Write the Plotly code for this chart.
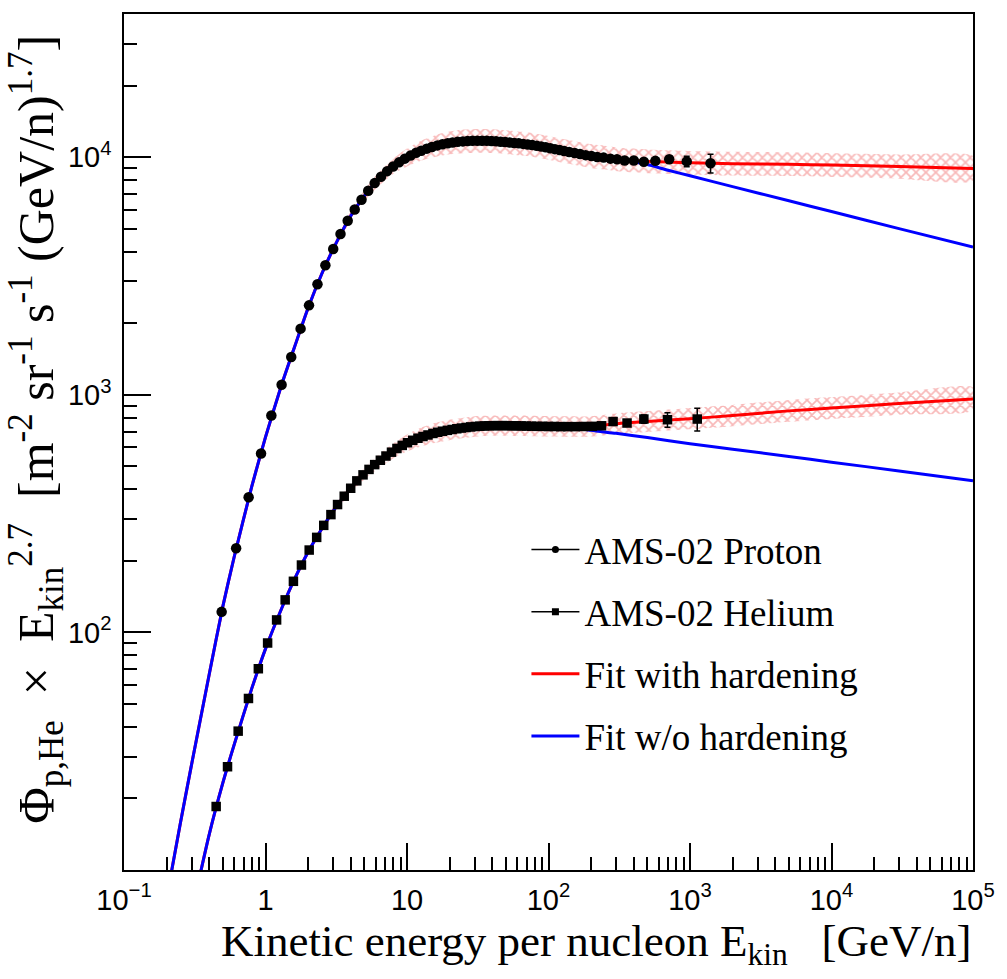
import plotly.graph_objects as go

# ---------------- data ----------------
# AMS-02 proton: kinetic energy per nucleon [GeV/n] and flux x E^2.7
p_E = [0.49, 0.62, 0.76, 0.93, 1.10, 1.30, 1.52, 1.77, 2.03, 2.33, 2.65, 3.01, 3.39, 3.81, 4.27,
       4.77, 5.32, 5.91, 6.55, 7.24, 7.98, 8.79, 9.65, 10.6, 11.6, 12.6, 13.8, 15.0, 16.4, 17.8,
       19.4, 21.0, 22.8, 24.8, 26.8, 29.0, 31.4, 33.9, 36.6, 39.5, 42.6, 45.9, 49.4, 53.2, 57.3,
       61.6, 66.3, 71.4, 76.8, 82.6, 88.8, 95.6, 103, 111, 120, 129, 140, 153, 167, 183,
       201, 221, 245, 274, 305, 345, 401, 472, 569, 713, 948, 1397]
p_F = [122, 226, 370, 566, 817, 1101, 1442, 1897, 2377, 2917, 3508, 4105, 4746, 5400, 6017,
       6617, 7218, 7770, 8260, 8725, 9130, 9500, 9850, 10150, 10420, 10640, 10850, 11030, 11200, 11330,
       11440, 11520, 11590, 11640, 11680, 11700, 11710, 11710, 11700, 11680, 11650, 11610, 11570, 11520, 11470,
       11420, 11360, 11300, 11230, 11150, 11070, 10990, 10900, 10800, 10700, 10600, 10500, 10400, 10300, 10190,
       10100, 10000, 9950, 9850, 9790, 9680, 9680, 9550, 9640, 9790, 9590, 9420]
p_relerr = [0.01, 0.01, 0.01, 0.01, 0.01, 0.01, 0.01, 0.01, 0.01, 0.01, 0.01, 0.01, 0.01, 0.01, 0.01,
            0.01, 0.01, 0.01, 0.01, 0.01, 0.01, 0.01, 0.01, 0.01, 0.01, 0.01, 0.01, 0.01, 0.01, 0.01,
            0.01, 0.01, 0.01, 0.01, 0.01, 0.01, 0.01, 0.01, 0.01, 0.01, 0.01, 0.01, 0.01, 0.01, 0.01,
            0.01, 0.01, 0.01, 0.01, 0.01, 0.01, 0.01, 0.01, 0.01, 0.01, 0.01, 0.01, 0.01, 0.01, 0.01,
            0.011, 0.011, 0.012, 0.013, 0.015, 0.017, 0.02, 0.025, 0.03, 0.035, 0.05, 0.09]

# AMS-02 helium
h_E = [0.448, 0.539, 0.641, 0.758, 0.890, 1.035, 1.198, 1.377, 1.575, 1.795, 2.036, 2.30, 2.58, 2.90,
       3.23, 3.60, 4.00, 4.42, 4.89, 5.39, 5.91, 6.48, 7.10, 7.77, 8.49, 9.26, 10.08, 10.98, 11.95,
       12.97, 14.07, 15.25, 16.49, 17.84, 19.29, 20.84, 22.49, 24.26, 26.16, 28.18, 30.36, 32.71,
       35.23, 37.93, 40.83, 43.95, 47.33, 51.08, 55.07, 59.32, 64.07, 69.57, 75.82, 82.82, 90.82,
       99.82, 110.1, 122.1, 136.6, 154.3, 176.3, 204.1, 237, 286, 359, 472, 693, 1125]
h_F = [18.5, 27.2, 38.4, 52.7, 70.3, 90.2, 112.8, 137, 164, 192, 222, 251, 282, 313,
       345, 374, 404, 434, 460, 485, 508, 530, 552, 573, 594, 612, 628, 643, 656,
       667, 677, 687, 695, 702, 708, 714, 719, 724, 728, 732, 735, 737,
       739, 740, 741, 741, 741, 741, 740, 740, 739, 738, 737, 736, 736,
       735, 735, 734, 734, 734, 735, 736, 740, 771, 760, 790, 785, 790]
h_relerr = [0.01, 0.01, 0.01, 0.01, 0.01, 0.01, 0.01, 0.01, 0.01, 0.01, 0.01, 0.01, 0.01, 0.01,
            0.01, 0.01, 0.01, 0.01, 0.01, 0.01, 0.01, 0.01, 0.01, 0.01, 0.01, 0.01, 0.01, 0.01, 0.01,
            0.01, 0.01, 0.01, 0.01, 0.01, 0.01, 0.01, 0.01, 0.01, 0.01, 0.01, 0.01, 0.01,
            0.01, 0.01, 0.01, 0.01, 0.01, 0.01, 0.01, 0.01, 0.01, 0.01, 0.01, 0.01, 0.01,
            0.01, 0.01, 0.01, 0.011, 0.011, 0.012, 0.013, 0.015, 0.02, 0.025, 0.04, 0.07, 0.11]

# fit curves (proton)
pf_E = [0.2, 0.25, 0.3, 0.4, 0.5, 0.6, 0.8, 1.0, 1.3, 1.6, 2.0, 2.5, 3.0, 4.0, 5.0, 6.0, 8.0, 10,
        13, 16, 20, 25, 32, 40, 50, 65, 80, 100, 130, 160, 200, 250, 300, 400, 500, 700, 1000,
        2000, 5000, 1e4, 3e4, 1e5]
pf_hard = [7.6, 15.7, 27.7, 66.5, 129, 207, 411, 663, 1101, 1581, 2317, 3228, 4090, 5650, 6870,
           7830, 9150, 9960, 10720, 11150, 11470, 11640, 11710, 11675, 11565, 11380, 11190, 10935,
           10590, 10350, 10105, 9940, 9790, 9680, 9600, 9530, 9460, 9380, 9330, 9250, 9120, 8960]
pf_soft = [7.6, 15.7, 27.7, 66.5, 129, 207, 411, 663, 1101, 1581, 2317, 3228, 4090, 5650, 6870,
           7830, 9150, 9960, 10720, 11150, 11470, 11640, 11710, 11675, 11565, 11380, 11190, 10935,
           10590, 10350, 10105, 9940, 9760, 9560, 9300, 8800, 8340, 7510, 6550, 5900, 5000, 4180]
pf_band = [0.005, 0.005, 0.005, 0.006, 0.006, 0.007, 0.007, 0.008, 0.009, 0.01, 0.012, 0.014, 0.016,
           0.02, 0.024, 0.028, 0.033, 0.038, 0.043, 0.046, 0.048, 0.05, 0.05, 0.05, 0.05, 0.05,
           0.05, 0.05, 0.05, 0.05, 0.05, 0.05, 0.05, 0.05, 0.05, 0.05, 0.05, 0.05, 0.05,
           0.05, 0.051, 0.052]

# fit curves (helium)
hf_E = [0.3, 0.35, 0.4, 0.5, 0.6, 0.8, 1.0, 1.3, 1.6, 2.0, 2.5, 3.0, 4.0, 5.0, 6.0, 8.0, 10, 13,
        16, 20, 25, 32, 40, 50, 65, 80, 100, 130, 160, 200, 300, 500, 1000, 2000, 5000, 1e4, 3e4, 1e5]
hf_hard = [6.5, 9.95, 14.1, 23.3, 33.6, 58.1, 85.2, 126, 167, 218, 273, 323, 404, 465, 511, 580,
           626, 668, 692, 711, 725, 737, 741, 741, 740, 738, 736, 735, 734, 736, 755, 771, 793, 817,
           855, 879, 918, 960]
hf_soft = [6.5, 9.95, 14.1, 23.3, 33.6, 58.1, 85.2, 126, 167, 218, 273, 323, 404, 465, 511, 580,
           626, 668, 692, 711, 725, 737, 741, 741, 740, 738, 736, 733, 725, 708, 688, 660, 622, 590,
           550, 520, 478, 434]
hf_band = [0.005, 0.005, 0.005, 0.006, 0.006, 0.007, 0.008, 0.009, 0.01, 0.012, 0.014, 0.016, 0.02,
           0.024, 0.028, 0.032, 0.036, 0.04, 0.042, 0.043, 0.043, 0.043, 0.043, 0.043, 0.043, 0.043,
           0.043, 0.043, 0.043, 0.043, 0.043, 0.044, 0.045, 0.045, 0.046, 0.046, 0.047, 0.048]

# axis ticks
x_tickvals = [0.1, 1, 10, 100, 1000, 10000, 100000]
x_ticktext = ["10<sup>\u22121</sup>", "1", "10", "10<sup>2</sup>", "10<sup>3</sup>", "10<sup>4</sup>", "10<sup>5</sup>"]
y_tickvals = [100, 1000, 10000]
y_ticktext = ["10<sup>2</sup>", "10<sup>3</sup>", "10<sup>4</sup>"]
x_minor = [m * 10.0 ** d for d in range(-1, 5) for m in range(2, 10)]
y_minor = [m * 10.0 ** d for d in range(1, 5) for m in range(2, 10) if m * 10.0 ** d <= 4e4]

legend_names = ["AMS-02 Proton", "AMS-02 Helium", "Fit with hardening", "Fit w/o hardening"]

# ---------------- figure ----------------
BAND = "rgba(240,105,105,0.95)"
RED = "#ff0000"
BLUE = "#0000ff"

fig = go.Figure()

# legend entries for the data (line + marker symbol as in ROOT "lep")
fig.add_trace(go.Scatter(x=[None], y=[None], mode="lines+markers", name=legend_names[0],
                         marker=dict(symbol="circle", size=7, color="black"), line=dict(color="black", width=1.5),
                         legendgroup="a"))
fig.add_trace(go.Scatter(x=[None], y=[None], mode="lines+markers", name=legend_names[1],
                         marker=dict(symbol="square", size=7, color="black"), line=dict(color="black", width=1.5),
                         legendgroup="b"))


def band(E, F, w):
    up = [f * 10 ** d for f, d in zip(F, w)]
    lo = [f / 10 ** d for f, d in zip(F, w)]
    return go.Scatter(
        x=list(E) + list(E)[::-1], y=up + lo[::-1], mode="lines", fill="toself",
        line=dict(width=0, color="rgba(0,0,0,0)", shape="spline", smoothing=0.6),
        fillcolor="rgba(0,0,0,0)",
        fillpattern=dict(shape="x", fgcolor=BAND, bgcolor="rgba(255,255,255,0)", size=7, solidity=0.42),
        showlegend=False, hoverinfo="skip", legendgroup="z")


fig.add_trace(band(pf_E, pf_hard, pf_band))
fig.add_trace(band(hf_E, hf_hard, hf_band))

for E, F, show in [(pf_E, pf_hard, True), (hf_E, hf_hard, False)]:
    fig.add_trace(go.Scatter(x=E, y=F, mode="lines", line=dict(color=RED, width=3, shape="spline", smoothing=0.6),
                             name=legend_names[2], showlegend=show, legendgroup="c"))
for E, F, show in [(pf_E, pf_soft, True), (hf_E, hf_soft, False)]:
    fig.add_trace(go.Scatter(x=E, y=F, mode="lines", line=dict(color=BLUE, width=3, shape="spline", smoothing=0.6),
                             name=legend_names[3], showlegend=show, legendgroup="d"))

fig.add_trace(go.Scatter(
    x=p_E, y=p_F, mode="markers", marker=dict(symbol="circle", size=10.5, color="black"),
    error_y=dict(type="data", array=[f * r for f, r in zip(p_F, p_relerr)], color="black", thickness=1.5, width=3),
    showlegend=False, legendgroup="a"))
fig.add_trace(go.Scatter(
    x=h_E, y=h_F, mode="markers", marker=dict(symbol="square", size=9.5, color="black"),
    error_y=dict(type="data", array=[f * r for f, r in zip(h_F, h_relerr)], color="black", thickness=1.5, width=3),
    showlegend=False, legendgroup="b"))

axis_common = dict(
    type="log", tickmode="array", ticks="inside", ticklen=27, tickwidth=1.5, tickcolor="black",
    showline=True, linecolor="black", linewidth=1.5, mirror=True, showgrid=False, zeroline=False,
    tickfont=dict(family="Liberation Sans, Arial, sans-serif", size=29, color="black"),
)
fig.update_xaxes(range=[-1, 5], tickvals=x_tickvals, ticktext=x_ticktext, ticklabelstandoff=3,
                 minor=dict(tickmode="array", tickvals=x_minor, ticks="inside", ticklen=13, tickwidth=1.5,
                            tickcolor="black", showgrid=False),
                 **axis_common)
fig.update_yaxes(range=[1, 4.60206], tickvals=y_tickvals, ticktext=y_ticktext, ticklabelstandoff=5,
                 minor=dict(tickmode="array", tickvals=y_minor, ticks="inside", ticklen=13, tickwidth=1.5,
                            tickcolor="black", showgrid=False),
                 **axis_common)

TITLE_FONT = dict(family="Liberation Serif, Times New Roman, serif", size=45, color="black")
YTITLE_FONT = dict(family="Liberation Serif, Times New Roman, serif", size=50, color="black")
fig.add_annotation(text="Kinetic energy per nucleon E<sub>kin</sub>\u2002 [GeV/n]", xref="paper", yref="paper",
                   x=1.0, y=-0.086, xanchor="right", yanchor="middle", showarrow=False, font=TITLE_FONT)
fig.add_annotation(text="\u03a6<sub>p,He</sub>\u2002\u00d7\u2002E<sub>kin</sub><sup>2.7</sup>\u2002[m<sup>-2</sup> sr<sup>-1</sup> s<sup>-1</sup> (GeV/n)<sup>1.7</sup>]",
                   xref="paper", yref="paper", x=-0.104, y=0.515, xanchor="center", yanchor="middle",
                   textangle=-90, showarrow=False, font=YTITLE_FONT)

fig.update_layout(
    width=1007, height=979,
    margin=dict(l=124, r=25, t=12, b=109),
    paper_bgcolor="white", plot_bgcolor="white",
    showlegend=True,
    legend=dict(x=0.474, y=0.41, xanchor="left", yanchor="top", bgcolor="rgba(0,0,0,0)",
                font=dict(family="Liberation Serif, Times New Roman, serif", size=37, color="black"),
                tracegroupgap=11, itemwidth=48, traceorder="grouped"),
)

fig.write_html("out.html")
